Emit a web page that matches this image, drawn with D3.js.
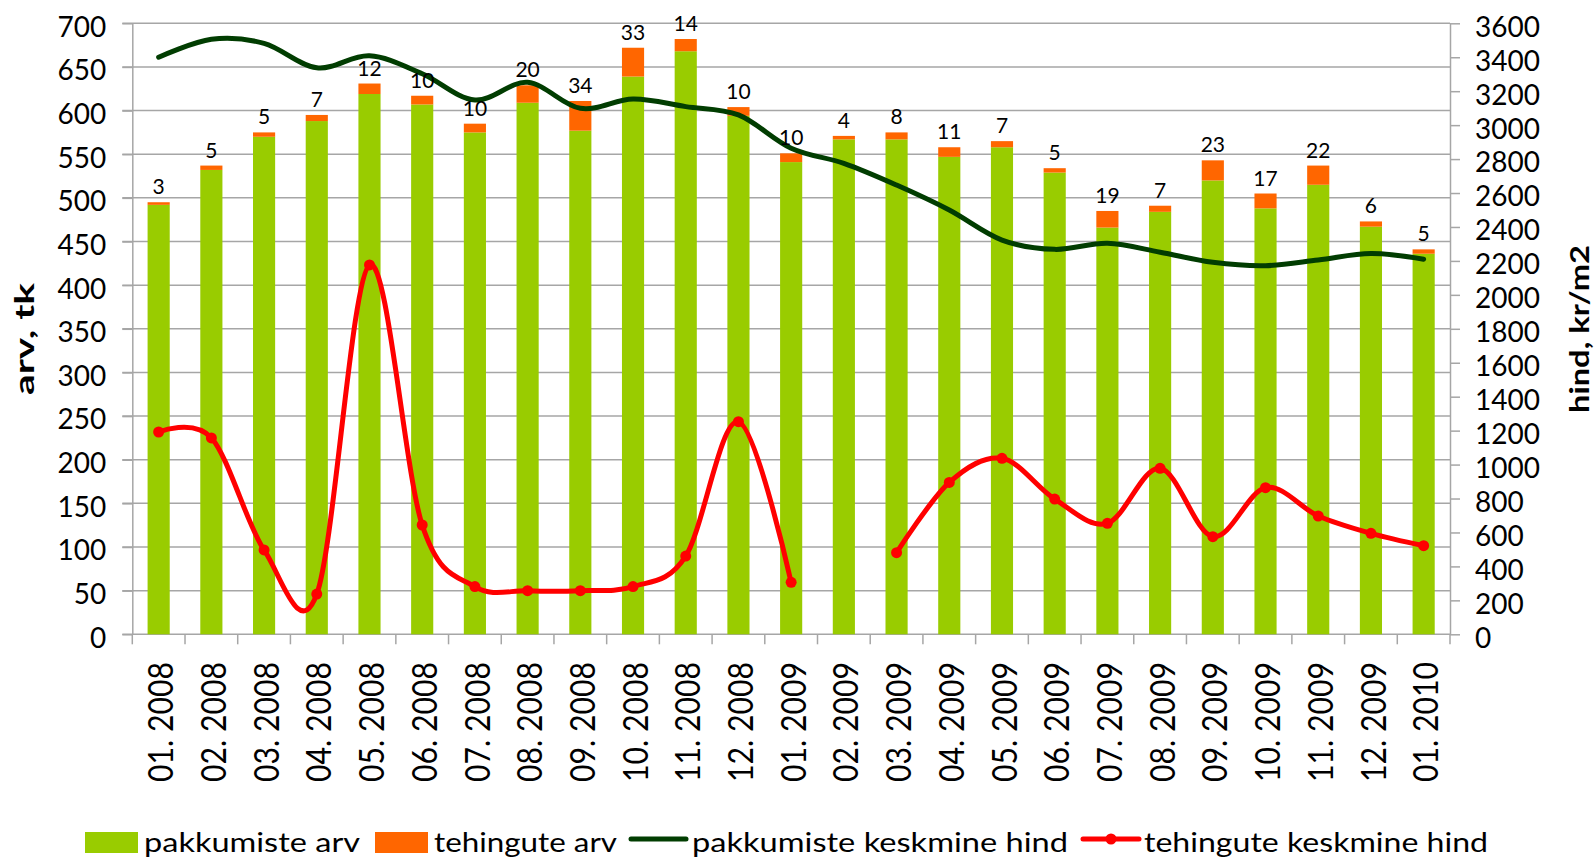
<!DOCTYPE html>
<html><head><meta charset="utf-8">
<script src="https://cdn.jsdelivr.net/npm/d3@7"></script>
<style>
body{margin:0;background:#fff}
svg{display:block}
text{font-family:Lato,"Open Sans",sans-serif;fill:#000}
</style>
</head><body>
<svg id="c" width="1594" height="859"></svg>
<script>
const categories = ["01. 2008","02. 2008","03. 2008","04. 2008","05. 2008","06. 2008","07. 2008","08. 2008","09. 2008","10. 2008","11. 2008","12. 2008","01. 2009","02. 2009","03. 2009","04. 2009","05. 2009","06. 2009","07. 2009","08. 2009","09. 2009","10. 2009","11. 2009","12. 2009","01. 2010"];
const pakkumisteArv = [492,532,570,588,619,607,575,609,577,639,668,594,541,567,567,547,558,529,466,484,520,488,515,467,436];
const tehinguteArv = [3,5,5,7,12,10,10,20,34,33,14,10,10,4,8,11,7,5,19,7,23,17,22,6,5];
const pakkumisteHind = [3400,3506,3482,3338,3409,3303,3148,3252,3099,3154,3109,3060,2864,2775,2647,2500,2323,2268,2304,2251,2192,2172,2205,2243,2210];
const tehinguteHind = [1192,1157,497,237,2176,644,281,257,257,281,461,1253,306,null,481,895,1037,797,654,978,575,864,697,595,522];
const leftTicks = [0,50,100,150,200,250,300,350,400,450,500,550,600,650,700];
const rightTicks = [0,200,400,600,800,1000,1200,1400,1600,1800,2000,2200,2400,2600,2800,3000,3200,3400,3600];
const seriesNames = ["pakkumiste arv","tehingute arv","pakkumiste keskmine hind","tehingute keskmine hind"];
const leftTitle = "arv, tk";
const rightTitle = "hind, kr/m2";

const C = {green:"#99cc00", orange:"#ff6600", dark:"#013d01", red:"#ff0000", grid:"#a6a6a6"};
const P = {left:132.3, right:1450, top:23.3, bottom:634.3};

const svg = d3.select("#c");
const x = d3.scaleBand().domain(categories).range([P.left, P.right]).padding(0);
const cx = c => x(c) + x.bandwidth()/2;
const yL = d3.scaleLinear().domain([0,700]).range([P.bottom, P.top]);
const yR = d3.scaleLinear().domain([0,3600]).range([P.bottom, P.top]);
const fmt = d3.format("d");

// gridlines
svg.append("g").selectAll("line").data(leftTicks.filter(t=>t>0)).join("line")
  .attr("x1", P.left-10).attr("x2", P.right)
  .attr("y1", d=>yL(d)).attr("y2", d=>yL(d))
  .attr("stroke", C.grid).attr("stroke-width", 1.5);

// left axis
const ga = svg.append("g").attr("transform",`translate(${P.left},0)`)
  .call(d3.axisLeft(yL).tickValues(leftTicks).tickFormat(fmt).tickSize(10).tickSizeOuter(0).tickPadding(16));
ga.select(".domain").attr("stroke", C.grid).attr("stroke-width",1.5);
ga.selectAll(".tick line").attr("stroke", C.grid).attr("stroke-width",1.5);
ga.selectAll("text").attr("font-size",28).attr("font-family","Lato").attr("dy","0.46em").attr("fill","#000");

// right axis
const gr = svg.append("g").attr("transform",`translate(${P.right},0)`)
  .call(d3.axisRight(yR).tickValues(rightTicks).tickFormat(fmt).tickSize(10).tickSizeOuter(0).tickPadding(15));
gr.select(".domain").attr("stroke", C.grid).attr("stroke-width",1.5);
gr.selectAll(".tick line").attr("stroke", C.grid).attr("stroke-width",1.5);
gr.selectAll("text").attr("font-size",28).attr("font-family","Lato").attr("dy","0.46em").attr("fill","#000");

// bottom axis
svg.append("line").attr("x1",P.left-10).attr("x2",P.right).attr("y1",P.bottom).attr("y2",P.bottom)
  .attr("stroke",C.grid).attr("stroke-width",1.5);
const bounds = categories.map(c=>x(c)).concat([P.right]);
svg.append("g").selectAll("line").data(bounds).join("line")
  .attr("x1",d=>d).attr("x2",d=>d).attr("y1",P.bottom).attr("y2",P.bottom+10)
  .attr("stroke",C.grid).attr("stroke-width",1.5);
svg.append("g").selectAll("text").data(categories).join("text")
  .attr("transform",d=>`translate(${cx(d)+2},662) rotate(-90)`)
  .attr("text-anchor","end").attr("dy","0.36em")
  .attr("font-size",35).attr("textLength",120).attr("lengthAdjust","spacingAndGlyphs")
  .text(d=>d);

// bars
const bw = x.bandwidth()*0.42;
const bars = svg.append("g");
bars.selectAll("rect.g").data(categories).join("rect").attr("class","g")
  .attr("x",d=>cx(d)-bw/2).attr("width",bw)
  .attr("y",(d,i)=>yL(pakkumisteArv[i])).attr("height",(d,i)=>yL(0)-yL(pakkumisteArv[i]))
  .attr("fill",C.green);
bars.selectAll("rect.o").data(categories).join("rect").attr("class","o")
  .attr("x",d=>cx(d)-bw/2).attr("width",bw)
  .attr("y",(d,i)=>yL(pakkumisteArv[i]+tehinguteArv[i]))
  .attr("height",(d,i)=>yL(pakkumisteArv[i])-yL(pakkumisteArv[i]+tehinguteArv[i]))
  .attr("fill",C.orange);

// lines
const curve = d3.curveCardinal.tension(0);
const lineDark = d3.line().x((d,i)=>cx(categories[i])).y(d=>yR(d)).curve(curve);
svg.append("path").attr("d",lineDark(pakkumisteHind)).attr("fill","none")
  .attr("stroke",C.dark).attr("stroke-width",5).attr("stroke-linecap","round").attr("stroke-linejoin","round");
const lineRed = d3.line().defined(d=>d!=null).x((d,i)=>cx(categories[i])).y(d=>yR(d)).curve(curve);
svg.append("path").attr("d",lineRed(tehinguteHind)).attr("fill","none")
  .attr("stroke",C.red).attr("stroke-width",5).attr("stroke-linecap","round").attr("stroke-linejoin","round");
svg.append("g").selectAll("circle").data(tehinguteHind.map((v,i)=>({v,i})).filter(d=>d.v!=null)).join("circle")
  .attr("cx",d=>cx(categories[d.i])).attr("cy",d=>yR(d.v)).attr("r",5.5).attr("fill",C.red);

// data labels
svg.append("g").selectAll("text").data(categories).join("text")
  .attr("x",d=>cx(d)).attr("y",(d,i)=>yL(pakkumisteArv[i]+tehinguteArv[i])-8)
  .attr("text-anchor","middle").attr("font-size",21)
  .text((d,i)=>tehinguteArv[i]);

// axis titles
svg.append("text").attr("transform","translate(34,339) rotate(-90)").attr("text-anchor","middle")
  .attr("font-size",27).attr("font-weight","bold").attr("textLength",112).attr("lengthAdjust","spacingAndGlyphs")
  .text(leftTitle);
svg.append("text").attr("transform","translate(1589,329) rotate(-90)").attr("text-anchor","middle")
  .attr("font-size",27).attr("font-weight","bold").attr("textLength",168).attr("lengthAdjust","spacingAndGlyphs")
  .text(rightTitle);

// legend
const lg = svg.append("g");
lg.append("rect").attr("x",85).attr("y",832).attr("width",53).attr("height",21).attr("fill",C.green);
lg.append("text").attr("x",144).attr("y",852).attr("font-size",27).attr("textLength",216).attr("lengthAdjust","spacingAndGlyphs").text(seriesNames[0]);
lg.append("rect").attr("x",375).attr("y",832).attr("width",53).attr("height",21).attr("fill",C.orange);
lg.append("text").attr("x",434).attr("y",852).attr("font-size",27).attr("textLength",183).attr("lengthAdjust","spacingAndGlyphs").text(seriesNames[1]);
lg.append("line").attr("x1",631).attr("x2",686).attr("y1",839).attr("y2",839).attr("stroke",C.dark).attr("stroke-width",5).attr("stroke-linecap","round");
lg.append("text").attr("x",692).attr("y",852).attr("font-size",27).attr("textLength",376).attr("lengthAdjust","spacingAndGlyphs").text(seriesNames[2]);
lg.append("line").attr("x1",1083).attr("x2",1139).attr("y1",839).attr("y2",839).attr("stroke",C.red).attr("stroke-width",5).attr("stroke-linecap","round");
lg.append("circle").attr("cx",1111).attr("cy",839).attr("r",5.5).attr("fill",C.red);
lg.append("text").attr("x",1144).attr("y",852).attr("font-size",27).attr("textLength",344).attr("lengthAdjust","spacingAndGlyphs").text(seriesNames[3]);
</script>
</body></html>
